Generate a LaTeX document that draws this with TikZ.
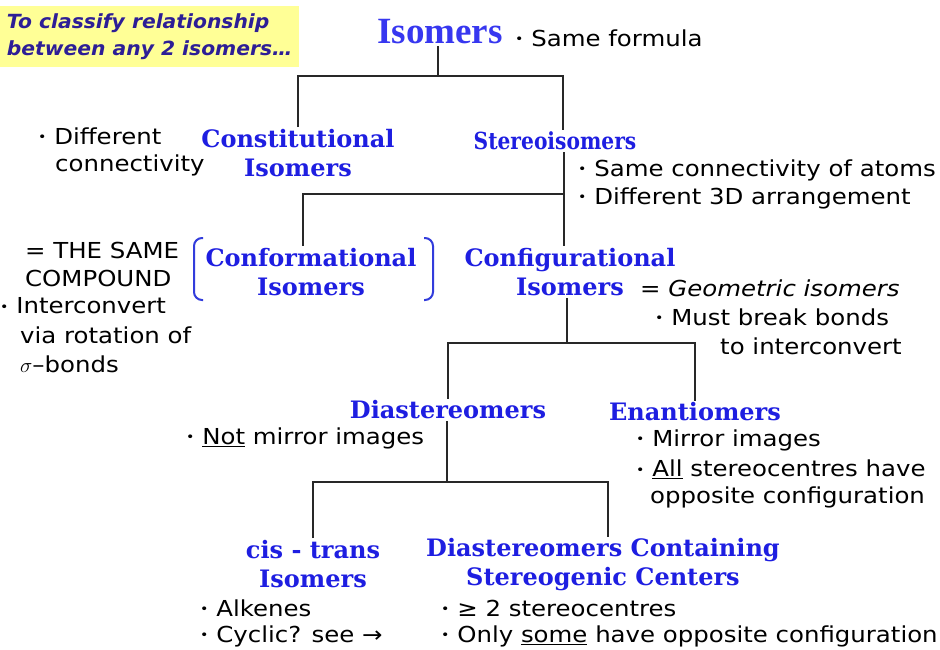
\documentclass[tikz,border=0pt]{standalone}
\usepackage{fontspec}
\setmainfont{DejaVu Sans}
\newfontfamily\annfont[FakeStretch=1.11]{DejaVu Sans}
\newfontfamily\notefont[FakeStretch=1.04]{DejaVu Sans}
\newfontfamily\slabfont{DejaVu Serif}
\newfontfamily\slabnarrow[FakeStretch=0.86]{DejaVu Serif}
\newfontfamily\timesfont{Liberation Serif}
\definecolor{headblue}{RGB}{30,30,225}
\definecolor{topblue}{RGB}{55,55,240}
\definecolor{treegray}{RGB}{40,40,40}
\definecolor{noteyellow}{RGB}{255,255,150}
\definecolor{notetext}{RGB}{45,30,150}
\definecolor{brkblue}{RGB}{50,60,220}
\newcommand{\bul}{\raisebox{2.3pt}{\scalebox{0.58}{•}}\ }
\begin{document}
\begin{tikzpicture}[x=1pt,y=-1pt,
  tree/.style={draw=treegray, line width=2.8pt},
  head/.style={font=\slabfont\bfseries\fontsize{24}{29}\selectfont, text=headblue, align=center, inner sep=2pt},
  ann/.style={font=\annfont\fontsize{22}{26}\selectfont, anchor=west, inner sep=0pt, text=black},
  brk/.style={draw=brkblue, line width=2pt, rounded corners=8pt}]
\useasboundingbox (0,0) rectangle (940,650);
\fill[white] (0,0) rectangle (940,650);

% note box
\node (note) [fill=noteyellow, anchor=north west, minimum width=299pt, minimum height=61pt,
  inner sep=0pt, align=left, text=notetext,
  font=\notefont\bfseries\itshape\fontsize{19.5}{27}\selectfont] at (0,6)
  {To classify relationship\\between any 2 isomers…};

% headings
\node (iso) [font=\timesfont\bfseries\fontsize{37}{40}\selectfont, text=topblue, inner sep=2pt] at (440,32) {Isomers};
\node (const) [head] at (298,153) {Constitutional\\Isomers};
\node (stereo) [head, font=\slabnarrow\bfseries\fontsize{23.5}{28}\selectfont] at (555,141) {Stereoisomers};
\node (conform) [head] at (311,272) {Conformational\\Isomers};
\node (config) [head] at (570,272) {Configurational\\Isomers};
\node (dia) [head] at (448,410) {Diastereomers};
\node (enan) [head] at (695,412) {Enantiomers};
\node (cis) [head] at (313,564) {cis - trans\\Isomers};
\node (dcsc) [head] at (603,565) {Diastereomers Containing\\Stereogenic Centers};

% tree connectors
\coordinate (j1) at (438,76);
\coordinate (j1r) at (563,76);
\draw[tree] (j1 |- iso.south) -- (j1);
\draw[tree] (const.north) |- (j1r) -- (j1r |- stereo.north);

\coordinate (j2) at (564,194);
\coordinate (j2l) at (303,194);
\draw[tree] (j2 |- stereo.south) -- (j2 |- config.north);
\draw[tree] (j2) -- (j2l) -- (j2l |- conform.north);

\coordinate (j3) at (567,343);
\draw[tree] (j3 |- config.south) -- (j3);
\draw[tree] (dia.north) |- (j3) -| (enan.north);

\coordinate (j4) at (447,482);
\coordinate (j4r) at (608,482);
\draw[tree] (j4 |- dia.south) -- (j4);
\draw[tree] (cis.north) |- (j4r) -- (j4r |- dcsc.north);

% brackets round conformational isomers
\coordinate (bl1) at (203,238);
\coordinate (bl2) at (194,238);
\coordinate (bl3) at (194,300);
\coordinate (bl4) at (203,300);
\coordinate (br1) at (424,238);
\coordinate (br2) at (433,238);
\coordinate (br3) at (433,300);
\coordinate (br4) at (424,300);
\draw[brk] (bl1) -- (bl2) -- (bl3) -- (bl4);
\draw[brk] (br1) -- (br2) -- (br3) -- (br4);

% annotations
\node (a1) [ann] at (515,38) {\bul Same formula};
\node (a2) [ann] at (38,136) {\bul Different};
\node (a3) [ann] at (55,165) {connectivity};
\node (a4) [ann] at (578,170) {\bul Same connectivity of atoms};
\node (a5) [ann] at (578,198) {\bul Different 3D arrangement};
\node (a6) [ann] at (25,250) {= THE SAME};
\node (a7) [ann] at (25,278) {COMPOUND};
\node (a8) [ann] at (0,306) {\bul Interconvert};
\node (a9) [ann] at (20,335) {via rotation of};
\node (a10) [ann] at (20,364) {$\sigma$–bonds};
\node (a11) [ann] at (640,288) {= \textit{Geometric isomers}};
\node (a12) [ann] at (655,317) {\bul Must break bonds};
\node (a13) [ann] at (720,346) {to interconvert};
\node (a14) [ann] at (186,438) {\bul \underline{Not} mirror images};
\node (a15) [ann] at (636,440) {\bul Mirror images};
\node (a16) [ann] at (636,469) {\bul \underline{All} stereocentres have};
\node (a17) [ann] at (650,497) {opposite configuration};
\node (a18) [ann] at (200,608) {\bul Alkenes};
\node (a19) [ann] at (200,636) {\bul Cyclic? see →};
\node (a20) [ann] at (441,608) {\bul ≥ 2 stereocentres};
\node (a21) [ann] at (441,636) {\bul Only \underline{some} have opposite configuration};
\end{tikzpicture}
\end{document}
